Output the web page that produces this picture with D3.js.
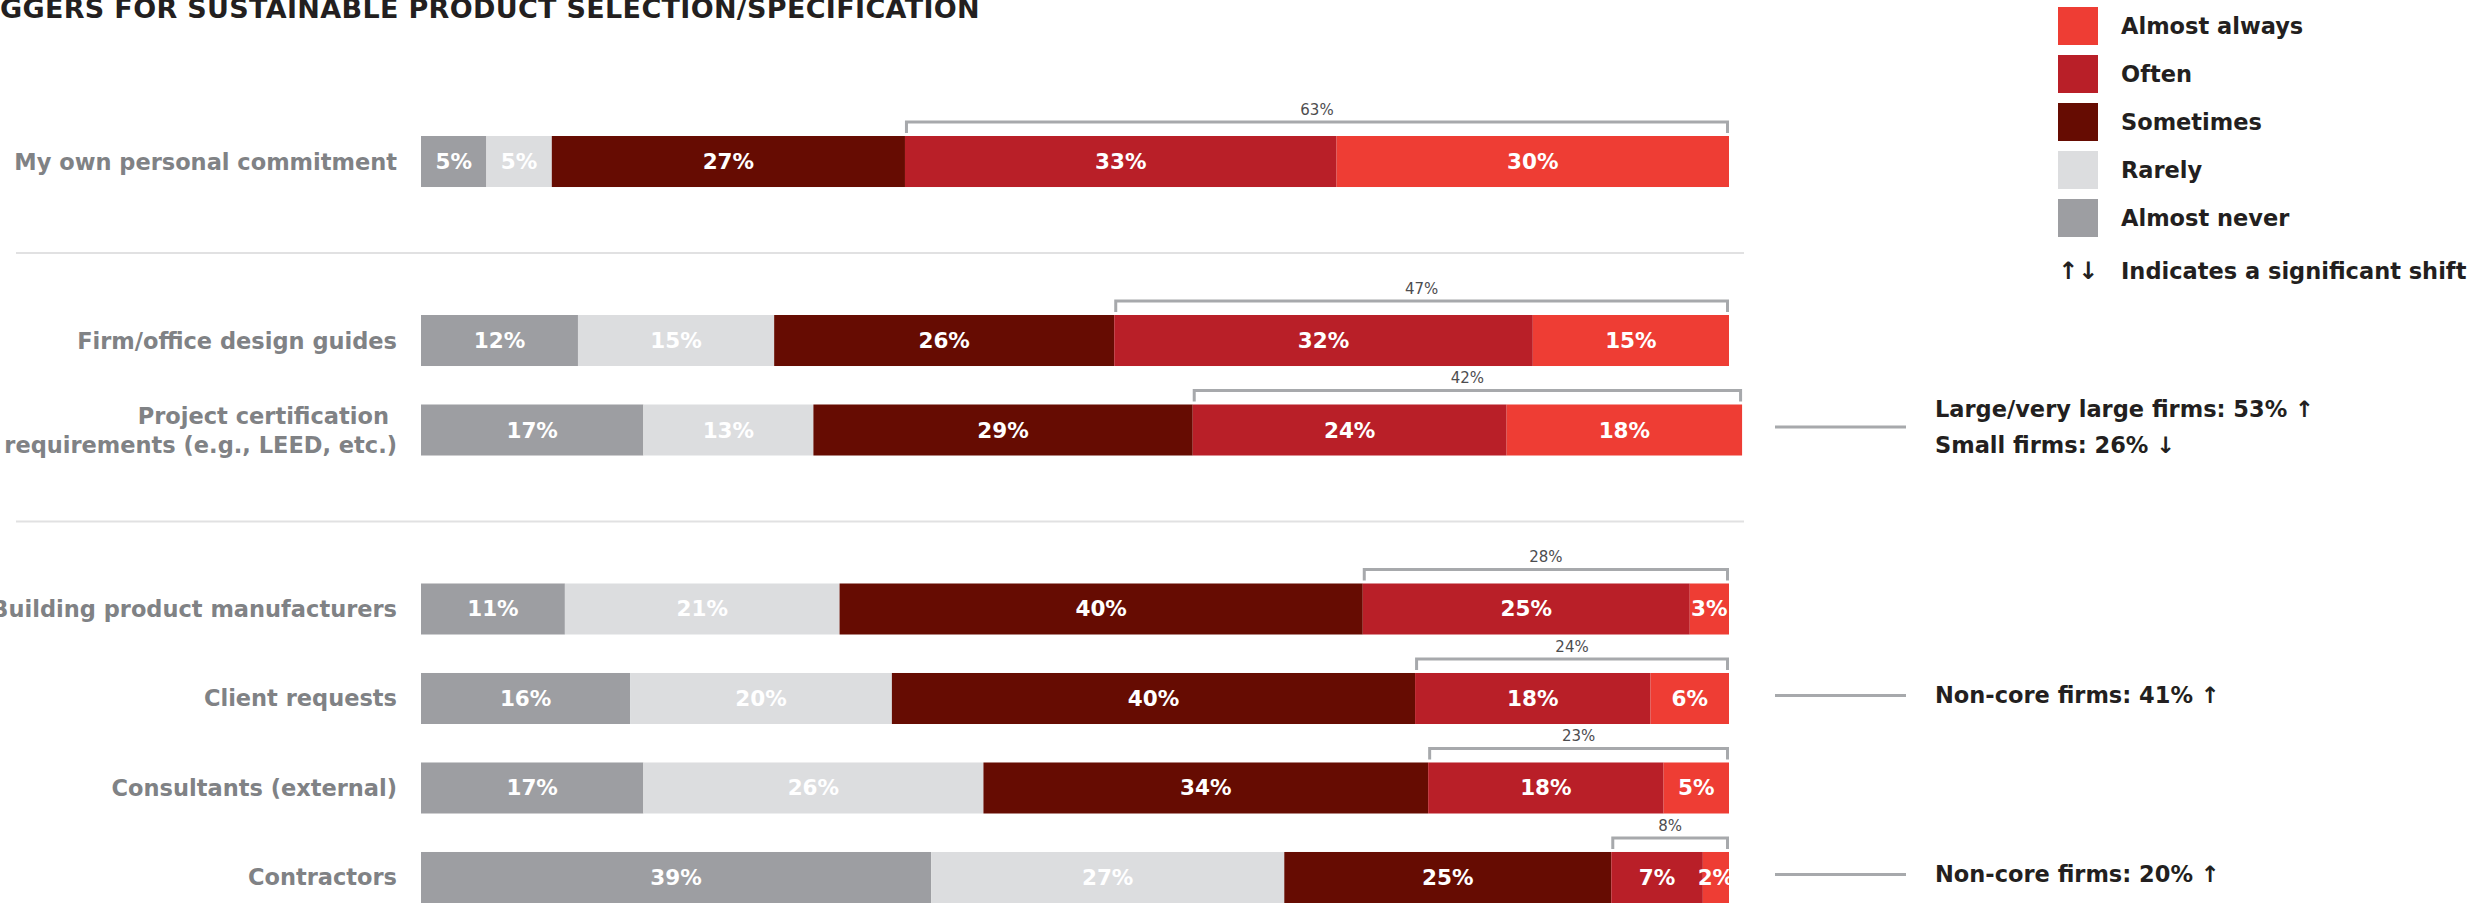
<!DOCTYPE html>
<html>
<head>
<meta charset="utf-8">
<script src="https://cdn.jsdelivr.net/npm/d3@7"></script>
<style>
  html, body { margin: 0; padding: 0; background: #fff; overflow: hidden; }
  svg { display: block; font-family: "DejaVu Sans", sans-serif; }
</style>
</head>
<body>
<svg id="chart" width="2473" height="907"></svg>
<script>
// data
const title = "TRIGGERS FOR SUSTAINABLE PRODUCT SELECTION/SPECIFICATION";
const titleHidden = "TRI"; // falls off the left edge in the original

const categories = [
  "My own personal commitment",
  "Firm/office design guides",
  "Project certification requirements (e.g., LEED, etc.)",
  "Building product manufacturers",
  "Client requests",
  "Consultants (external)",
  "Contractors"
];
const categoryLines = [
  ["My own personal commitment"],
  ["Firm/office design guides"],
  ["Project certification", "requirements (e.g., LEED, etc.)"],
  ["Building product manufacturers"],
  ["Client requests"],
  ["Consultants (external)"],
  ["Contractors"]
];
const groupOf = [0, 1, 1, 2, 2, 2, 2];

const seriesNames = ["Almost never", "Rarely", "Sometimes", "Often", "Almost always"];
const almostNever  = [5, 12, 17, 11, 16, 17, 39];
const rarely       = [5, 15, 13, 21, 20, 26, 27];
const sometimes    = [27, 26, 29, 40, 40, 34, 25];
const often        = [33, 32, 24, 25, 18, 18, 7];
const almostAlways = [30, 15, 18, 3, 6, 5, 2];
const topTwo       = [63, 47, 42, 28, 24, 23, 8];

const legendOrder = ["Almost always", "Often", "Sometimes", "Rarely", "Almost never"];
const shiftNote = "Indicates a significant shift";

const callouts = [
  { row: 2, lines: ["Large/very large firms: 53% \u2191", "Small firms: 26% \u2193"] },
  { row: 4, lines: ["Non-core firms: 41% \u2191"] },
  { row: 6, lines: ["Non-core firms: 20% \u2191"] }
];

const colors = {
  "Almost always": "#ee3d34",
  "Often": "#b91f28",
  "Sometimes": "#660c02",
  "Rarely": "#dcdddf",
  "Almost never": "#9d9ea2"
};

const svg = d3.select("#chart");
const ink = "#231f20";

// rows + gap slots between groups
const slots = [];
categories.forEach((c, i) => {
  if (i > 0 && groupOf[i] !== groupOf[i - 1]) slots.push("sep" + groupOf[i]);
  slots.push(c);
});

const y = d3.scaleBand().domain(slots).range([136, 903]).paddingInner(0.43).paddingOuter(0);
const x = d3.scaleLinear().domain([0, 100]).range([421, 1729]);

const rows = categories.map((c, i) => ({
  cat: c,
  lines: categoryLines[i],
  values: [almostNever[i], rarely[i], sometimes[i], often[i], almostAlways[i]],
  top: topTwo[i]
}));

const stack = d3.stack().keys(d3.range(5)).value((d, k) => d.values[k]);
const layers = stack(rows);

// title
const titleSel = svg.append("text")
  .attr("y", 18)
  .attr("font-size", 27)
  .attr("font-weight", "bold")
  .attr("fill", ink)
  .text(title);
{
  const tmp = svg.append("text").attr("font-size", 27).attr("font-weight", "bold").text(title.slice(titleHidden.length));
  const w0 = tmp.node().getComputedTextLength();
  tmp.text(titleHidden);
  const wHid = tmp.node().getComputedTextLength();
  tmp.remove();
  const n = title.length - titleHidden.length;
  const ls = (980 - w0) / n;
  titleSel.attr("letter-spacing", ls).attr("x", -(wHid + ls * titleHidden.length));
}

// separators
svg.selectAll(".sep")
  .data(slots.filter(s => s.startsWith("sep")))
  .enter().append("line")
  .attr("x1", 16).attr("x2", 1744)
  .attr("y1", d => y(d) + y.bandwidth() / 2 + 2)
  .attr("y2", d => y(d) + y.bandwidth() / 2 + 2)
  .attr("stroke", "#e1e1e2")
  .attr("stroke-width", 2);

// bars
const layerG = svg.selectAll(".layer")
  .data(layers)
  .enter().append("g")
  .attr("fill", d => colors[seriesNames[d.key]]);

layerG.selectAll("rect")
  .data(d => d)
  .enter().append("rect")
  .attr("x", d => x(d[0]))
  .attr("y", d => y(d.data.cat))
  .attr("width", d => x(d[1]) - x(d[0]))
  .attr("height", y.bandwidth());

// segment labels
const segLabels = [];
layers.forEach(l => l.forEach(d => segLabels.push({ d, v: d[1] - d[0] })));
svg.selectAll(".seg")
  .data(segLabels)
  .enter().append("text")
  .attr("x", s => (x(s.d[0]) + x(s.d[1])) / 2)
  .attr("y", s => y(s.d.data.cat) + y.bandwidth() / 2 + 7.5)
  .attr("text-anchor", "middle")
  .attr("font-size", 21.5)
  .attr("font-weight", "bold")
  .attr("fill", "#fff")
  .text(s => s.v + "%");

// category labels
const catG = svg.selectAll(".cat")
  .data(rows)
  .enter().append("text")
  .attr("text-anchor", "end")
  .attr("font-size", 22.5)
  .attr("font-weight", "bold")
  .attr("fill", "#808285");
catG.each(function(r) {
  const t = d3.select(this);
  const cy = y(r.cat) + y.bandwidth() / 2;
  const n = r.lines.length;
  r.lines.forEach((ln, k) => {
    t.append("tspan")
      .attr("x", n > 1 && k === 0 ? 389 : 397)
      .attr("y", cy + 8 + (k - (n - 1) / 2) * 29)
      .text(ln);
  });
});

// top-two brackets
const bracket = svg.selectAll(".bracket")
  .data(rows)
  .enter().append("g")
  .attr("class", "bracket");
bracket.append("path")
  .attr("d", r => {
    const s = d3.sum(r.values);
    const x0 = x(s - r.values[3] - r.values[4]) + 1.5;
    const x1 = x(s) - 1.5;
    const yl = y(r.cat) - 14;
    const yt = y(r.cat) - 3;
    return `M${x0},${yt}V${yl}H${x1}V${yt}`;
  })
  .attr("fill", "none")
  .attr("stroke", "#a7a9ac")
  .attr("stroke-width", 3);
bracket.append("text")
  .attr("x", r => {
    const s = d3.sum(r.values);
    return (x(s - r.values[3] - r.values[4]) + x(s)) / 2;
  })
  .attr("y", r => y(r.cat) - 21)
  .attr("text-anchor", "middle")
  .attr("font-size", 15)
  .attr("fill", "#4d4d4f")
  .text(r => r.top + "%");

// callouts
const co = svg.selectAll(".callout")
  .data(callouts)
  .enter().append("g");
co.append("line")
  .attr("x1", 1775).attr("x2", 1906)
  .attr("y1", c => y(categories[c.row]) + y.bandwidth() / 2 - 3)
  .attr("y2", c => y(categories[c.row]) + y.bandwidth() / 2 - 3)
  .attr("stroke", "#a7a9ac")
  .attr("stroke-width", 3);
co.append("text")
  .attr("font-size", 22.5)
  .attr("font-weight", "bold")
  .attr("fill", ink)
  .each(function(c) {
    const t = d3.select(this);
    const cy = y(categories[c.row]) + y.bandwidth() / 2 - 3;
    const n = c.lines.length;
    c.lines.forEach((ln, k) => {
      t.append("tspan")
        .attr("x", 1935)
        .attr("y", cy + 8 + (k - (n - 1) / 2) * 36)
        .text(ln);
    });
  });

// legend
const lg = svg.selectAll(".legend")
  .data(legendOrder)
  .enter().append("g")
  .attr("transform", (d, i) => `translate(2058, ${7 + i * 48})`);
lg.append("rect")
  .attr("width", 40)
  .attr("height", 38)
  .attr("fill", d => colors[d]);
lg.append("text")
  .attr("x", 63)
  .attr("y", 27)
  .attr("font-size", 22.5)
  .attr("font-weight", "bold")
  .attr("fill", ink)
  .text(d => d);

const note = svg.append("g").attr("transform", `translate(2058, ${7 + 5 * 48})`);
note.append("text")
  .attr("x", 20)
  .attr("y", 32)
  .attr("text-anchor", "middle")
  .attr("font-size", 24)
  .attr("font-weight", "bold")
  .attr("fill", ink)
  .text("\u2191\u2193");
note.append("text")
  .attr("x", 63)
  .attr("y", 32)
  .attr("font-size", 22.5)
  .attr("font-weight", "bold")
  .attr("fill", ink)
  .text(shiftNote);
</script>
</body>
</html>
